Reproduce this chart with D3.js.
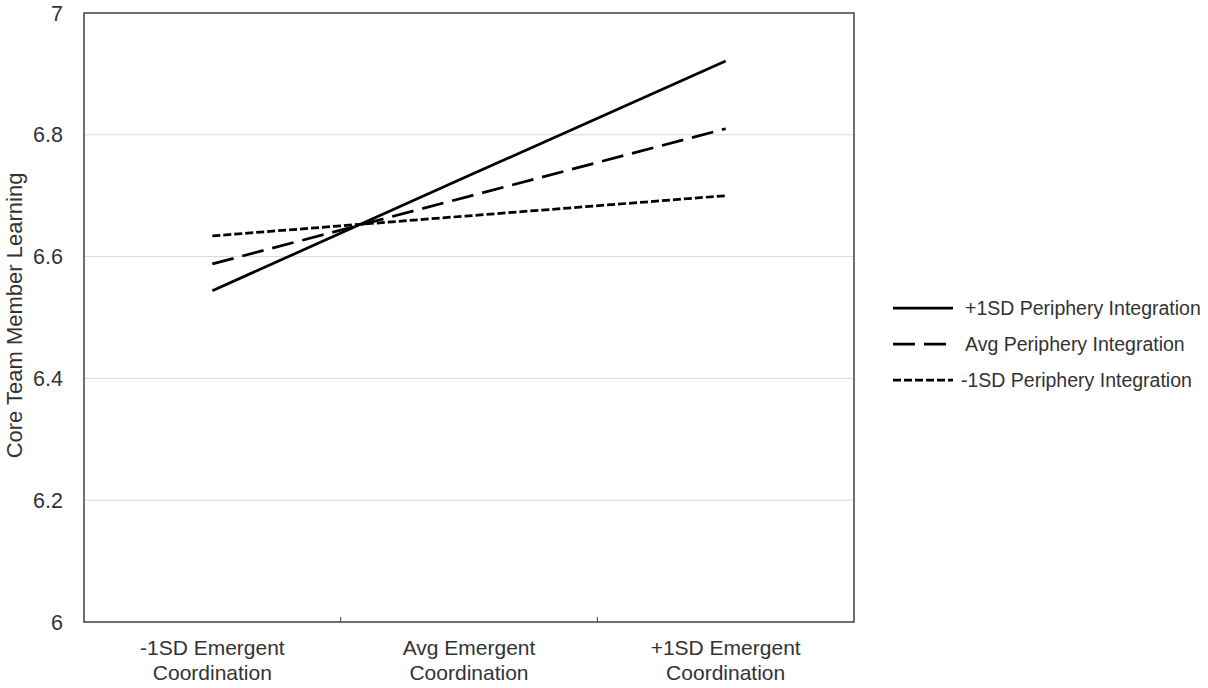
<!DOCTYPE html>
<html>
<head>
<meta charset="utf-8">
<script src="https://cdn.jsdelivr.net/npm/d3@7"></script>
<style>
  html, body { margin: 0; padding: 0; background: #fff; }
  svg { display: block; font-family: "Liberation Sans", Arial, sans-serif; }
</style>
</head>
<body>
<svg id="chart" width="1208" height="688"></svg>
<script>
// ---- data ----
const categories = ["-1SD Emergent\nCoordination", "Avg Emergent\nCoordination", "+1SD Emergent\nCoordination"];
const seriesNames = ["+1SD Periphery Integration", "Avg Periphery Integration", "-1SD Periphery Integration"];
const plusSD = [6.544, 6.733, 6.921];
const avgSD = [6.588, 6.699, 6.810];
const minusSD = [6.634, 6.667, 6.700];
const yTicks = [6, 6.2, 6.4, 6.6, 6.8, 7];
const yTickLabels = ["6", "6.2", "6.4", "6.6", "6.8", "7"];
const yTitle = "Core Team Member Learning";

// ---- layout ----
const svg = d3.select("#chart");
const plot = { left: 84, right: 854, top: 13, bottom: 622 };

const x = d3.scaleBand().domain(d3.range(categories.length)).range([plot.left, plot.right]);
const y = d3.scaleLinear().domain([6, 7]).range([plot.bottom, plot.top]);

// gridlines
svg.append("g").selectAll("line").data(yTicks.filter(t => t > 6 && t < 7)).join("line")
  .attr("x1", plot.left).attr("x2", plot.right)
  .attr("y1", d => y(d)).attr("y2", d => y(d))
  .attr("stroke", "#d9d9d9").attr("stroke-width", 1);

// frame
svg.append("rect")
  .attr("x", plot.left).attr("y", plot.top)
  .attr("width", plot.right - plot.left).attr("height", plot.bottom - plot.top)
  .attr("fill", "none").attr("stroke", "#404040").attr("stroke-width", 1.5);

// x tick marks between categories (inward)
svg.append("g").selectAll("line").data(d3.range(1, categories.length)).join("line")
  .attr("x1", d => x(d)).attr("x2", d => x(d))
  .attr("y1", plot.bottom).attr("y2", plot.bottom - 5)
  .attr("stroke", "#404040").attr("stroke-width", 1);

// y tick labels
svg.append("g").selectAll("text").data(yTicks).join("text")
  .attr("x", 63).attr("y", d => y(d))
  .attr("dy", "0.35em").attr("text-anchor", "end")
  .attr("font-size", 21.5).attr("fill", "#333")
  .text((d, i) => yTickLabels[i]);

// x category labels
const xl = svg.append("g").selectAll("text").data(categories).join("text")
  .attr("x", (d, i) => x(i) + x.bandwidth() / 2)
  .attr("y", 655)
  .attr("text-anchor", "middle").attr("font-size", 21).attr("fill", "#333");
xl.each(function(d) {
  const lines = d.split("\n");
  d3.select(this).selectAll("tspan").data(lines).join("tspan")
    .attr("x", d3.select(this).attr("x"))
    .attr("dy", (l, j) => j === 0 ? 0 : 25)
    .text(l => l);
});

// y title
svg.append("text")
  .attr("transform", `translate(22, ${(plot.top + plot.bottom) / 2 - 2}) rotate(-90)`)
  .attr("text-anchor", "middle").attr("font-size", 22).attr("fill", "#333")
  .text(yTitle);

// series
const series = [
  { name: seriesNames[0], values: plusSD, dash: null },
  { name: seriesNames[1], values: avgSD, dash: "22,9" },
  { name: seriesNames[2], values: minusSD, dash: "8,3" }
];
const line = d3.line()
  .x((d, i) => x(i) + x.bandwidth() / 2)
  .y(d => y(d));

svg.append("g").selectAll("path").data(series).join("path")
  .attr("d", s => line(s.values))
  .attr("fill", "none").attr("stroke", "#000").attr("stroke-width", 2.75)
  .attr("stroke-dasharray", s => s.dash);

// legend
const lg = svg.append("g");
const rowY = [308, 344, 380];
const textX = [965, 965, 961];
series.forEach((s, i) => {
  lg.append("line")
    .attr("x1", 893).attr("x2", 953)
    .attr("y1", rowY[i]).attr("y2", rowY[i])
    .attr("stroke", "#000").attr("stroke-width", 2.75)
    .attr("stroke-dasharray", s.dash);
  lg.append("text")
    .attr("x", textX[i]).attr("y", rowY[i])
    .attr("dy", "0.35em").attr("font-size", 19.5).attr("fill", "#333")
    .text(s.name);
});
</script>
</body>
</html>
